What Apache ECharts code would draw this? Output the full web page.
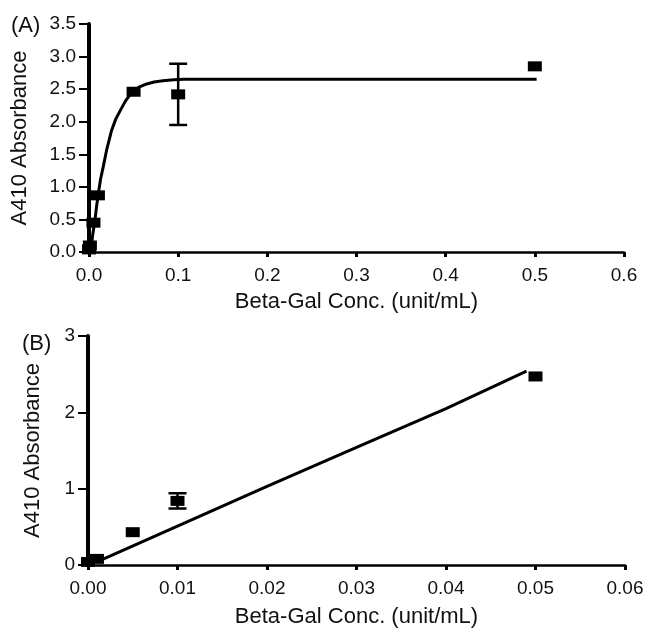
<!DOCTYPE html>
<html>
<head>
<meta charset="utf-8">
<script src="https://cdn.jsdelivr.net/npm/echarts@6/dist/echarts.min.js"></script>
<style>
html,body{margin:0;padding:0;background:#fff;}
#chart{width:649px;height:632px;}
</style>
</head>
<body>
<div id="chart"></div>
<script>
// Panel A data
var concA = [0, 0.001, 0.005, 0.01, 0.05, 0.1, 0.5];
var absA  = [0.04, 0.10, 0.45, 0.87, 2.46, 2.42, 2.85];
var errA  = [0, 0, 0, 0, 0, 0.47, 0];
var fitAx = [0.002, 0.004, 0.0067, 0.0085, 0.0105, 0.013, 0.016, 0.020, 0.0254, 0.030, 0.035, 0.041, 0.048, 0.056, 0.0647, 0.073, 0.083, 0.095, 0.106, 0.502];
var fitAy = [0.00, 0.25, 0.49, 0.70, 0.90, 1.12, 1.31, 1.58, 1.87, 2.04, 2.17, 2.32, 2.45, 2.53, 2.58, 2.61, 2.63, 2.645, 2.65, 2.65];
var xTicksA = ['0.0','0.1','0.2','0.3','0.4','0.5','0.6'];
var yTicksA = ['0.0','0.5','1.0','1.5','2.0','2.5','3.0','3.5'];

// Panel B data
var concB = [0, 0.001, 0.005, 0.01, 0.05];
var absB  = [0.04, 0.08, 0.43, 0.84, 2.47];
var errB  = [0, 0, 0, 0.10, 0];
var fitBx = [0.001, 0.01, 0.02, 0.03, 0.04, 0.049];
var fitBy = [0.04, 0.51, 1.03, 1.54, 2.05, 2.54];
var xTicksB = ['0.00','0.01','0.02','0.03','0.04','0.05','0.06'];
var yTicksB = ['0','1','2','3'];

var FONT = '"Liberation Sans", Arial, sans-serif';

function pairs(xs, ys){ return xs.map(function(x,i){ return [x, ys[i]]; }); }
function errData(xs, ys, es){
  var out = [];
  xs.forEach(function(x,i){ if (es[i] > 0) out.push([x, ys[i] - es[i], ys[i] + es[i]]); });
  return out;
}
function errRender(params, api){
  var x = api.value(0);
  var lo = api.coord([x, api.value(1)]);
  var hi = api.coord([x, api.value(2)]);
  var hw = 9;
  var st = {stroke:'#000', lineWidth:2.5};
  return {type:'group', children:[
    {type:'line', shape:{x1:lo[0], y1:lo[1], x2:hi[0], y2:hi[1]}, style:st},
    {type:'line', shape:{x1:lo[0]-hw, y1:lo[1], x2:lo[0]+hw, y2:lo[1]}, style:st},
    {type:'line', shape:{x1:hi[0]-hw, y1:hi[1], x2:hi[0]+hw, y2:hi[1]}, style:st}
  ]};
}

function xAxis(gi, max, interval, ticks, nameGap){
  return {
    type:'value', gridIndex:gi, min:0, max:max, interval:interval,
    name:'Beta-Gal Conc. (unit/mL)', nameLocation:'middle', nameGap:nameGap,
    nameTextStyle:{fontFamily:FONT, fontSize:22, color:'#111'},
    axisLine:{onZero:false, lineStyle:{color:'#000', width:2.5}},
    axisTick:{show:true, inside:false, length:5, lineStyle:{color:'#000', width:3}},
    axisLabel:{margin:14, fontFamily:FONT, fontSize:19, color:'#111',
      formatter:function(v){ var i = Math.round(v/interval); return ticks[i] !== undefined ? ticks[i] : ''; }},
    splitLine:{show:false}
  };
}
function yAxis(gi, max, interval, ticks, nameGap){
  return {
    type:'value', gridIndex:gi, min:0, max:max, interval:interval,
    name:'A410 Absorbance', nameLocation:'middle', nameGap:nameGap,
    nameTextStyle:{fontFamily:FONT, fontSize:22, color:'#111'},
    axisLine:{show:true, onZero:false, lineStyle:{color:'#000', width:4}},
    axisTick:{show:true, inside:false, length:10, lineStyle:{color:'#000', width:2}},
    axisLabel:{margin:13, fontFamily:FONT, fontSize:19, color:'#111',
      formatter:function(v){ var i = Math.round(v/interval); return ticks[i] !== undefined ? ticks[i] : ''; }},
    splitLine:{show:false}
  };
}

var chart = echarts.init(document.getElementById('chart'), null, {renderer:'canvas'});
chart.setOption({
  animation:false,
  backgroundColor:'#fff',
  graphic:[
    {type:'text', left:11, top:15, style:{text:'(A)', font:'22px ' + FONT, fill:'#111'}},
    {type:'text', left:22, top:333, style:{text:'(B)', font:'22px ' + FONT, fill:'#111'}}
  ],
  grid:[
    {left:89, right:25, top:24, height:228},
    {left:88, right:24, top:336, height:229}
  ],
  xAxis:[ xAxis(0, 0.6, 0.1, xTicksA, 39), xAxis(1, 0.06, 0.01, xTicksB, 41) ],
  yAxis:[ yAxis(0, 3.5, 0.5, yTicksA, 58), yAxis(1, 3, 1, yTicksB, 44) ],
  series:[
    {type:'line', xAxisIndex:0, yAxisIndex:0, data:pairs(fitAx, fitAy), showSymbol:false, smooth:false,
      lineStyle:{color:'#000', width:3}, z:2},
    {type:'custom', xAxisIndex:0, yAxisIndex:0, data:errData(concA, absA, errA), renderItem:errRender, z:3},
    {type:'scatter', xAxisIndex:0, yAxisIndex:0, data:pairs(concA, absA), symbol:'rect', symbolSize:[14,10],
      itemStyle:{color:'#000', opacity:1}, z:4},
    {type:'line', xAxisIndex:1, yAxisIndex:1, data:pairs(fitBx, fitBy), showSymbol:false,
      lineStyle:{color:'#000', width:3}, z:2},
    {type:'custom', xAxisIndex:1, yAxisIndex:1, data:errData(concB, absB, errB), renderItem:errRender, z:3},
    {type:'scatter', xAxisIndex:1, yAxisIndex:1, data:pairs(concB, absB), symbol:'rect', symbolSize:[14,10],
      itemStyle:{color:'#000', opacity:1}, z:4}
  ]
});
</script>
</body>
</html>
